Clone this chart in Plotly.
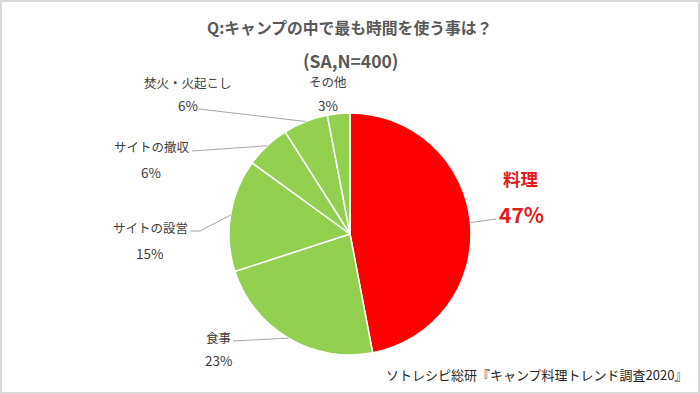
import math
import plotly.graph_objects as go

# ---- data ----
categories = ["料理", "食事", "サイトの設営", "サイトの撤収", "焚火・火起こし", "その他"]
values = [47, 23, 15, 6, 6, 3]
title_text = "Q:キャンプの中で最も時間を使う事は？"
subtitle_text = "(SA,N=400)"
source_text = "ソトレシピ総研『キャンプ料理トレンド調査2020』"

# ---- style / layout ----
W, H = 700, 394
colors = ["#FF0000", "#92D050", "#92D050", "#92D050", "#92D050", "#92D050"]
CX, CY, R = 350, 234, 121  # pie centre / radius in px
FONT = "Noto Sans CJK JP"
# label centre positions (px) : name, percent
name_pos = [(521, 178), (218, 337), (150, 228), (152, 146), (188, 82), (328, 81)]
pct_pos = [(521, 214), (218, 360), (149, 253), (151, 172), (188, 105), (328, 105)]
# leader lines: list of points from label side (anchor on pie added from data)
leader_pts = [[(496, 219)], [(233, 341)], [(190, 231), (200, 231)],
              [(192, 151)], [(199, 109)], None]


def px(x, y):
    return x / W, 1 - y / H


fig = go.Figure()
fig.add_trace(go.Pie(
    labels=categories, values=values, sort=False, direction="clockwise",
    rotation=0, textinfo="none", hoverinfo="label+percent",
    marker=dict(colors=colors, line=dict(color="white", width=1.5)),
    domain=dict(x=[(CX - R) / W, (CX + R) / W],
                y=[(H - CY - R) / H, (H - CY + R) / H]),
    showlegend=False,
))

annotations = []
shapes = []
total = sum(values)
cum = 0
for i, (cat, v) in enumerate(zip(categories, values)):
    mid = (cum + v / 2) / total * 2 * math.pi
    cum += v
    ax = CX + R * math.sin(mid)
    ay = CY - R * math.cos(mid)
    main = i == 0
    col = "#E21A1A" if main else "#404040"
    nx, ny = px(*name_pos[i])
    annotations.append(dict(x=nx, y=ny, xref="paper", yref="paper", text=cat,
                            showarrow=False, xanchor="center", yanchor="middle",
                            font=dict(family=FONT, size=17.5 if main else 12.5, color=col,
                                      weight="bold" if main else "normal")))
    qx, qy = px(*pct_pos[i])
    annotations.append(dict(x=qx, y=qy, xref="paper", yref="paper", text=f"{v}%",
                            showarrow=False, xanchor="center", yanchor="middle",
                            font=dict(family=FONT, size=21 if main else 13.5, color=col,
                                      weight="bold" if main else "normal")))
    if leader_pts[i]:
        pts = leader_pts[i] + [(ax, ay)]
        path = "M " + " L ".join(f"{px(x, y)[0]},{px(x, y)[1]}" for x, y in pts)
        shapes.append(dict(type="path", xref="paper", yref="paper", path=path,
                           line=dict(color="#A6A6A6", width=1)))

# title & subtitle
tx, ty = px(349, 28)
annotations.append(dict(x=tx, y=ty, xref="paper", yref="paper", text=title_text,
                        showarrow=False, xanchor="center", yanchor="middle",
                        font=dict(family=FONT, size=15.8, color="#595959", weight="bold")))
sx, sy = px(350, 60)
annotations.append(dict(x=sx, y=sy, xref="paper", yref="paper", text=subtitle_text,
                        showarrow=False, xanchor="center", yanchor="middle",
                        font=dict(family=FONT, size=17.5, color="#595959", weight="bold")))
# source
ox, oy = px(689, 374)
annotations.append(dict(x=ox, y=oy, xref="paper", yref="paper", text=source_text,
                        showarrow=False, xanchor="right", yanchor="middle",
                        font=dict(family=FONT, size=13, color="#262626")))

# frame
shapes.append(dict(type="rect", xref="paper", yref="paper", x0=0, y0=0, x1=1, y1=1,
                   line=dict(color="#D9D9D9", width=4)))

fig.update_layout(
    width=W, height=H, margin=dict(l=0, r=0, t=0, b=0),
    paper_bgcolor="white", plot_bgcolor="white",
    annotations=annotations, shapes=shapes,
)
fig.write_html("out.html", config={"displayModeBar": False},
               post_script=["document.body.style.margin='0';document.body.style.overflow='hidden';"])
